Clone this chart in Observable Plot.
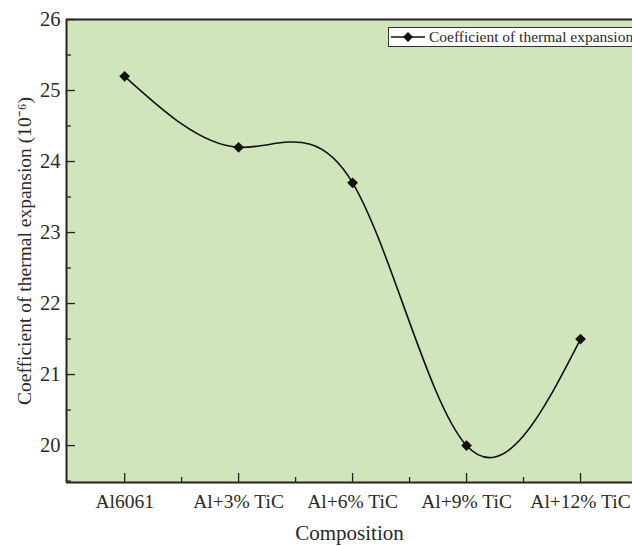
<!DOCTYPE html>
<html>
<head>
<meta charset="utf-8">
<script src="https://cdn.jsdelivr.net/npm/d3@7"></script>
<script src="https://cdn.jsdelivr.net/npm/@observablehq/plot@0.6"></script>
<style>
  html, body { margin: 0; padding: 0; background: #fff; }
  #wrap { position: relative; width: 632px; height: 546px; overflow: hidden; }
  #wrap svg text { font-family: "Liberation Serif", "Times New Roman", serif; }
  #legend { position: absolute; left: 388px; top: 27px; width: 260px; height: 20px;
    border: 1px solid #333; background: #fff; box-sizing: border-box;
    font-family: "Liberation Serif", "Times New Roman", serif; font-size: 15.5px; color: #2a2a2a;
    display: flex; align-items: center; white-space: nowrap; }
  #legend svg { margin-left: 1px; margin-right: 3px; }
</style>
</head>
<body>
<div id="wrap"></div>
<script>
const categories = ["Al6061", "Al+3% TiC", "Al+6% TiC", "Al+9% TiC", "Al+12% TiC"];
const cte = [25.2, 24.2, 23.7, 20.0, 21.5];
const yMajorTicks = [20, 21, 22, 23, 24, 25, 26];
const yMinorTicks = [19.5, 20.5, 21.5, 22.5, 23.5, 24.5, 25.5];
const xMajorTicks = [1, 2, 3, 4, 5];
const xMinorTicks = [1.5, 2.5, 3.5, 4.5];
const seriesName = "Coefficient of thermal expansion";

const data = categories.map((c, i) => ({x: i + 1, cat: c, y: cte[i]}));
const xDomain = [0.49, 5.456];
const yDomain = [19.48, 26];
const ink = "#222";

const chart = Plot.plot({
  width: 632,
  height: 546,
  marginLeft: 66,
  marginTop: 19,
  marginBottom: 64,
  marginRight: 0,
  style: {fontFamily: "'Liberation Serif', serif", fontSize: "20px", color: "#2a2a2a", background: "transparent", overflow: "visible"},
  x: {type: "linear", domain: xDomain},
  y: {type: "linear", domain: yDomain},
  marks: [
    Plot.frame({fill: "#d0e5bc", stroke: "none"}),
    Plot.axisY({ticks: yMajorTicks, tickSize: 0, tickPadding: 6, tickFormat: d3.format("d"),
      label: "Coefficient of thermal expansion (10⁻⁶)", labelAnchor: "center",
      labelOffset: 49, labelArrow: "none"}),
    Plot.axisY({ticks: yMajorTicks, tickSize: -9, text: null, label: null, stroke: ink, strokeWidth: 1.3}),
    Plot.axisY({ticks: yMinorTicks, tickSize: -5, text: null, label: null, stroke: ink, strokeWidth: 1.3}),
    Plot.axisX({ticks: xMajorTicks, tickSize: 0, tickPadding: 12,
      tickFormat: d => categories[d - 1], label: "Composition", labelAnchor: "center",
      labelOffset: 57, labelArrow: "none"}),
    Plot.axisX({ticks: xMajorTicks, tickSize: -9, text: null, label: null, stroke: ink, strokeWidth: 1.3}),
    Plot.axisX({ticks: xMinorTicks, tickSize: -5, text: null, label: null, stroke: ink, strokeWidth: 1.3}),
    Plot.ruleX([xDomain[0]], {stroke: ink, strokeWidth: 2}),
    Plot.ruleY([yDomain[0]], {stroke: ink, strokeWidth: 2}),
    Plot.ruleY([yDomain[1]], {stroke: ink, strokeWidth: 2}),
    Plot.line(data, {x: "x", y: "y", curve: "natural", stroke: "#111", strokeWidth: 1.6}),
    Plot.dot(data, {x: "x", y: "y", symbol: "square", rotate: 45, r: 4.3, fill: "#111", stroke: "none"})
  ]
});

const wrap = document.getElementById("wrap");
wrap.appendChild(chart);

const setSize = (sel, px) => chart.querySelectorAll(sel).forEach(g => { g.setAttribute("font-size", px); g.style.fontSize = px + "px"; });
setSize("[aria-label='x-axis tick label']", 19.5);
setSize("[aria-label='y-axis tick label']", 20.5);
setSize("[aria-label='x-axis label']", 21);
setSize("[aria-label='y-axis label']", 19.5);

const legend = document.createElement("div");
legend.id = "legend";
legend.innerHTML = `<svg width="36" height="12"><line x1="1" y1="6" x2="35" y2="6" stroke="#111" stroke-width="1.6"/><path d="M18,1 L23,6 L18,11 L13,6 Z" fill="#111"/></svg><span>${seriesName}</span>`;
wrap.appendChild(legend);
</script>
</body>
</html>
